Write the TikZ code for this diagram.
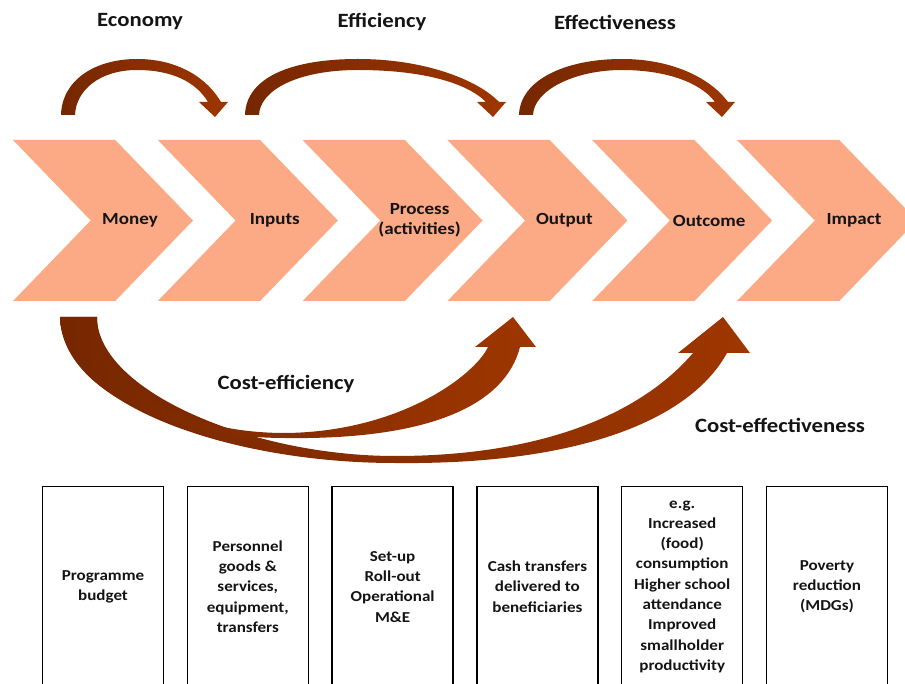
\documentclass[tikz,border=0pt]{standalone}
\usepackage{fontspec}
\setmainfont{Carlito}[FakeStretch=1.12]
\usetikzlibrary{positioning,shapes.symbols}

\definecolor{peach}{HTML}{FBAA85}
\definecolor{arcdark}{HTML}{762700}
\definecolor{arclight}{HTML}{9E3600}
\definecolor{ink}{HTML}{141414}

\tikzset{
  chev/.style = {signal, signal to=east, signal from=west, signal pointer angle=92,
    fill=peach, draw=none, minimum width=180pt, minimum height=161pt,
    inner sep=0pt, outer sep=0pt},
  chevtext/.style = {xshift=27pt, align=center, text=ink,
    font=\fontsize{17}{20}\selectfont\bfseries},
  box/.style = {draw=black, line width=1.4pt, minimum width=121pt, minimum height=200pt,
    inner sep=0pt, align=center, text=ink, font=\fontsize{15.2}{20.3}\selectfont\bfseries},
  biglabel/.style = {text=ink, font=\fontsize{20.3}{24}\selectfont\bfseries},
  brownarc/.style = {left color=arcdark, right color=arclight, draw=none}
}

\begin{document}
\begin{tikzpicture}[x=1pt, y=-1pt, node distance=144.8pt]
  \useasboundingbox (0,0) rectangle (905,684);
  \clip (0,0) rectangle (905,684);

  % the chain
  \node[chev, label={[chevtext]center:Money}] (money) at (103,220.5) {};
  \node[chev, right of=money, label={[chevtext]center:Inputs}] (inputs) {};
  \node[chev, right of=inputs, label={[chevtext]center:{Process\\(activities)}}] (process) {};
  \node[chev, right of=process, label={[chevtext]center:Output}] (output) {};
  \node[chev, right of=output, label={[chevtext]center:Outcome}] (outcome) {};
  \node[chev, right of=outcome, label={[chevtext]center:Impact}] (impact) {};

  % top arrows
  \path[brownarc] (61,115) .. controls (62,80) and (95,59) .. (137,59)
    .. controls (178,59) and (207,78) .. (221,102) -- (228,102) -- (215,117) -- (199,102) -- (208,102)
    .. controls (196,82) and (172,70) .. (137,70) .. controls (100,70) and (76,90) .. (75,115) -- cycle;
  \path[brownarc] (245,115) .. controls (246,78) and (290,59) .. (358,59)
    .. controls (425,59) and (478,80) .. (499,102) -- (506,102) -- (493,117) -- (477,102) -- (486,102)
    .. controls (466,82) and (420,70) .. (358,70) .. controls (298,70) and (260,90) .. (259,115) -- cycle;
  \path[brownarc] (519,115) .. controls (520,80) and (565,59) .. (622,59)
    .. controls (675,59) and (712,80) .. (728,102) -- (735,102) -- (722,117) -- (706,102) -- (715,102)
    .. controls (700,82) and (665,70) .. (622,70) .. controls (575,70) and (534,90) .. (533,115) -- cycle;

  \node[biglabel] (economy) at (140,22) {Economy};
  \node[biglabel] (efficiency) at (382,22) {Efficiency};
  \node[biglabel] (effectiveness) at (615,22) {Effectiveness};

  % bottom arrows
  \path[brownarc] (60,317) .. controls (62,405) and (230,463) .. (395,463)
    .. controls (580,465) and (690,420) .. (727,353) -- (750,353) -- (723,317) -- (678,353) -- (693,353)
    .. controls (640,415) and (540,456) .. (395,456) .. controls (250,456) and (97,390) .. (97,317) -- cycle;
  \path[brownarc] (60,317) .. controls (62,390) and (170,438) .. (285,438)
    .. controls (430,440) and (505,405) .. (520,347) -- (536,347) -- (513,317) -- (475,347) -- (488,347)
    .. controls (475,375) and (400,432) .. (285,433) .. controls (180,433) and (97,385) .. (97,317) -- cycle;

  \node[biglabel] (costeff) at (286,384) {Cost-efficiency};
  \node[biglabel] (costeffect) at (780,425) {Cost-effectiveness};

  % boxes
  \node[box, below=185pt of money] (budget) {Programme\\budget};
  \node[box, below=185pt of inputs] (personnel) {Personnel\\goods \&\\services,\\equipment,\\transfers};
  \node[box, below=185pt of process] (setup) {Set-up\\Roll-out\\Operational\\M\&E};
  \node[box, below=185pt of output] (cash) {Cash transfers\\delivered to\\beneficiaries};
  \node[box, below=185pt of outcome] (increased) {e.g.\\Increased\\(food)\\consumption\\Higher school\\attendance\\Improved\\smallholder\\productivity};
  \node[box, below=185pt of impact] (poverty) {Poverty\\reduction\\(MDGs)};
\end{tikzpicture}
\end{document}
